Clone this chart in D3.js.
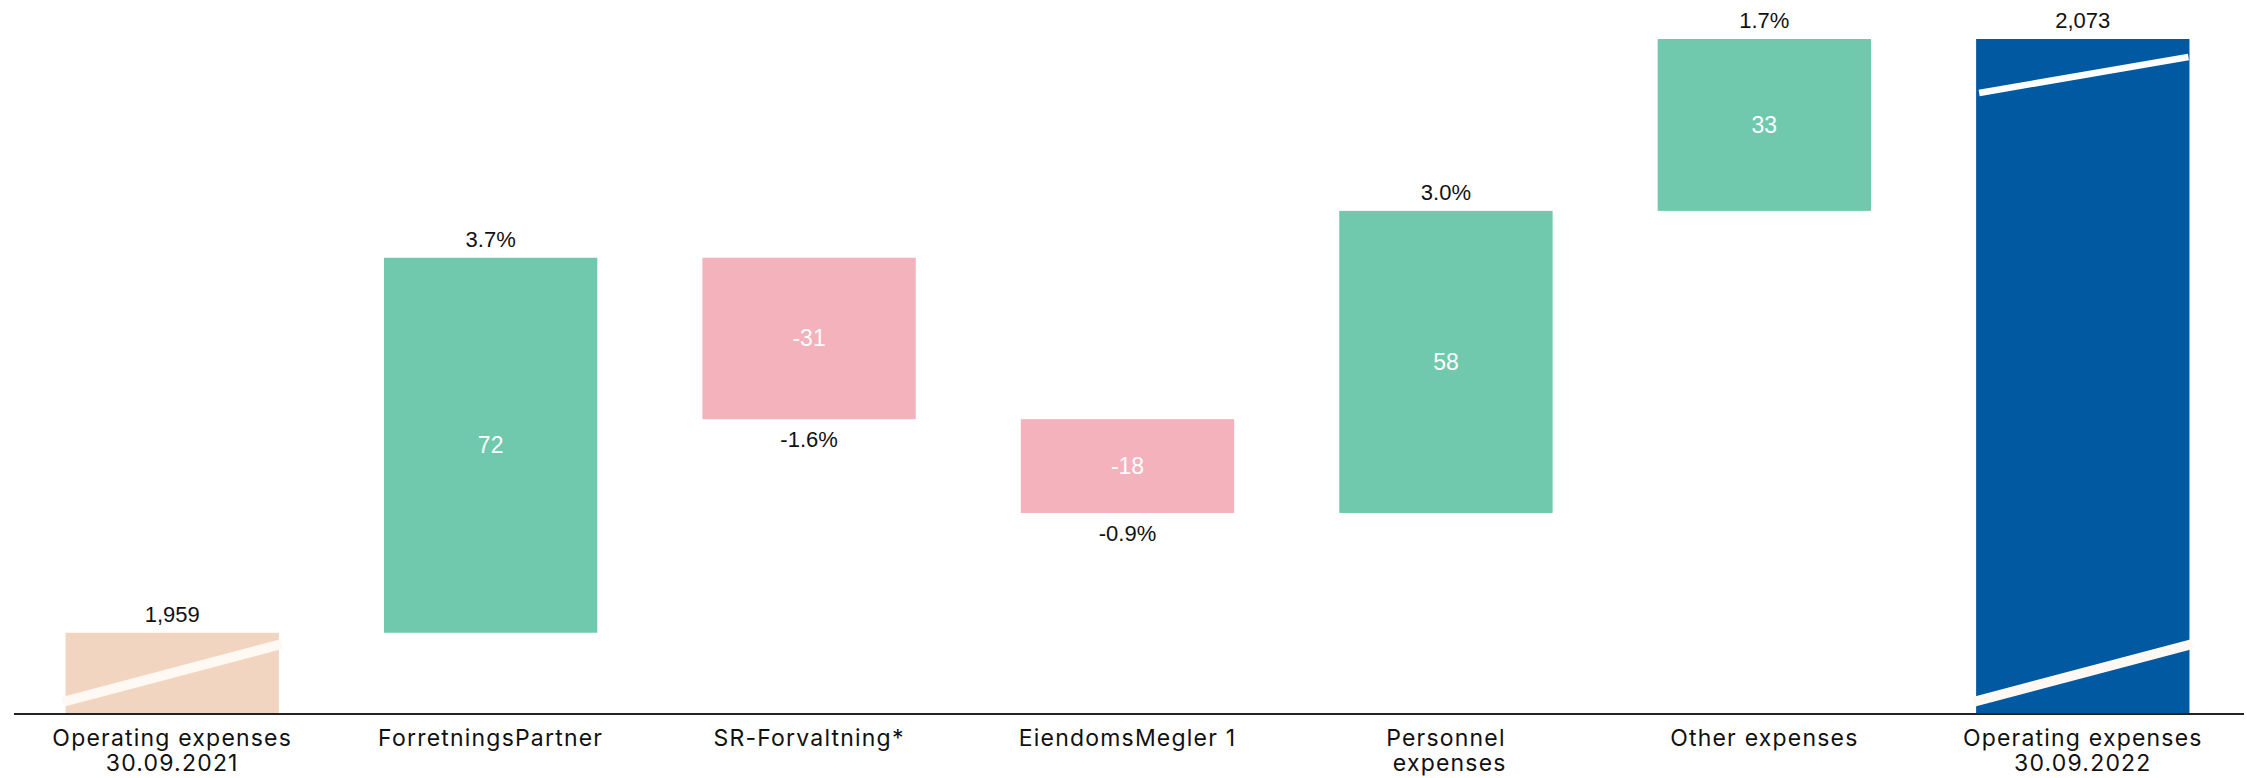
<!DOCTYPE html>
<html>
<head>
<meta charset="utf-8">
<script src="https://cdn.jsdelivr.net/npm/d3@7"></script>
<style>
  html, body { margin: 0; padding: 0; background: #ffffff; }
  svg { display: block; }
</style>
</head>
<body>
<svg id="chart" width="2247" height="778"></svg>
<script>
// ---- data ----
const categories = [
  "Operating expenses\n30.09.2021",
  "ForretningsPartner",
  "SR-Forvaltning*",
  "EiendomsMegler 1",
  "Personnel\n expenses",
  "Other expenses",
  "Operating expenses\n30.09.2022"
];
const values = [1959, 72, -31, -18, 58, 33, 2073];
const kinds = ["start", "delta", "delta", "delta", "delta", "delta", "end"];
const pctLabels = ["", "3.7%", "-1.6%", "-0.9%", "3.0%", "1.7%", ""];
const axisMin = 1943.4;   // truncated axis base (broken bars)
const axisMax = 2073;

// ---- layout ----
const svg = d3.select("#chart");

const x = d3.scaleBand()
  .domain(categories)
  .range([13, 2242])
  .paddingInner(0.33)
  .paddingOuter(0.165);

const y = d3.scaleLinear()
  .domain([axisMin, axisMax])
  .range([714, 39]);

const colors = { start: "#F2D5C1", up: "#70C9AD", down: "#F3B2BC", end: "#0059A1" };

// compute waterfall segments
let running = 0;
const segs = categories.map((c, i) => {
  const v = values[i], k = kinds[i];
  let y0, y1, col;
  if (k === "start") { y0 = axisMin; y1 = v; running = v; col = colors.start; }
  else if (k === "end") { y0 = axisMin; y1 = v; col = colors.end; }
  else {
    y0 = running; y1 = running + v; running = y1;
    col = v >= 0 ? colors.up : colors.down;
  }
  return { c, v, k, lo: Math.min(y0, y1), hi: Math.max(y0, y1), col, pct: pctLabels[i] };
});

const valueFont = "'Liberation Sans', Arial, sans-serif";
const catFont = "Inter, 'Open Sans', sans-serif";

// bars
svg.append("g").selectAll("rect").data(segs).join("rect")
  .attr("x", d => x(d.c))
  .attr("width", x.bandwidth())
  .attr("y", d => y(d.hi))
  .attr("height", d => y(d.lo) - y(d.hi))
  .attr("fill", d => d.col);

// break marks on the total bars
const bw = x.bandwidth();
const breakG = svg.append("g");
segs.filter(d => d.k !== "delta").forEach(d => {
  const x0 = x(d.c), x1 = x0 + bw;
  const base = y(axisMin);
  breakG.append("line")
    .attr("x1", x0 - 3).attr("y1", base - 12)
    .attr("x2", x1 + 3).attr("y2", base - 70)
    .attr("stroke", "#FFF8F3").attr("stroke-width", 10);
  if (d.k === "end") {
    const top = y(d.hi);
    breakG.append("line")
      .attr("x1", x0 + 3).attr("y1", top + 54)
      .attr("x2", x1 - 1).attr("y2", top + 18)
      .attr("stroke", "#ffffff").attr("stroke-width", 6.5);
  }
});

// baseline
svg.append("line")
  .attr("x1", 14).attr("x2", 2244)
  .attr("y1", y(axisMin)).attr("y2", y(axisMin))
  .attr("stroke", "#222").attr("stroke-width", 2);

// inner labels for deltas
svg.append("g").selectAll("text").data(segs.filter(d => d.k === "delta")).join("text")
  .attr("x", d => x(d.c) + bw / 2)
  .attr("y", d => (y(d.lo) + y(d.hi)) / 2 + 8)
  .attr("text-anchor", "middle")
  .attr("font-family", valueFont)
  .attr("font-size", 23)
  .attr("fill", "#ffffff")
  .text(d => String(d.v));

// outside labels
const fmt = d3.format(",");
svg.append("g").selectAll("text").data(segs).join("text")
  .attr("x", d => x(d.c) + bw / 2)
  .attr("y", d => (d.k === "delta" && d.v < 0) ? y(d.lo) + 28 : y(d.hi) - 11)
  .attr("text-anchor", "middle")
  .attr("font-family", valueFont)
  .attr("font-size", 22)
  .attr("fill", "#111")
  .text(d => d.k === "delta" ? d.pct : fmt(d.v));

// category labels
const catG = svg.append("g");
segs.forEach(d => {
  const t = catG.append("text")
    .attr("x", x(d.c) + bw / 2)
    .attr("y", 746)
    .attr("text-anchor", "middle")
    .attr("font-family", catFont)
    .attr("font-size", 23)
    .attr("letter-spacing", "1.2px")
    .attr("fill", "#111")
    .style("white-space", "pre");
  d.c.split("\n").forEach((line, j) => {
    t.append("tspan")
      .attr("x", x(d.c) + bw / 2)
      .attr("dy", j === 0 ? 0 : 25)
      .text(line);
  });
});
</script>
</body>
</html>
